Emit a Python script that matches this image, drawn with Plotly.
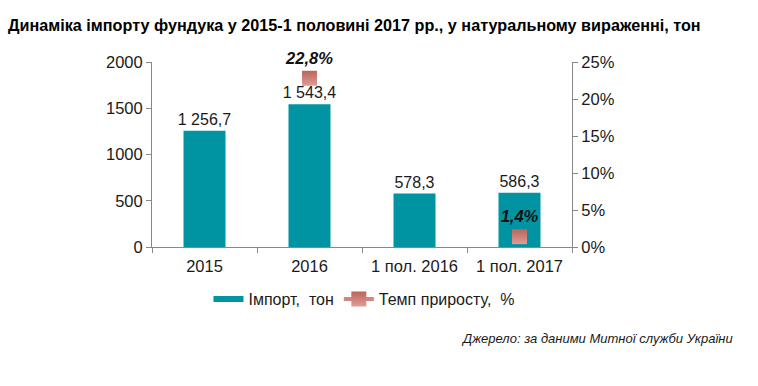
import plotly.graph_objects as go

categories = ["2015", "2016", "1 пол. 2016", "1 пол. 2017"]
import_tons = [1256.7, 1543.4, 578.3, 586.3]
growth_pct = [None, 22.8, None, 1.4]
left_ticks = [0, 500, 1000, 1500, 2000]
right_ticks = [0, 5, 10, 15, 20, 25]

FONT = "Arial, Liberation Sans, sans-serif"
TEAL = "#0094A2"

def fmt_num(v):
    return f"{v:,.1f}".replace(",", " ").replace(".", ",")

bar_text = [fmt_num(v) for v in import_tons]
pct_text = ["" if v is None else f"<b><i>{v:.1f}%</i></b>".replace(".", ",") for v in growth_pct]

L, R, T, B = 152, 186, 62, 139
PW, PH = 758 - L - R, 386 - T - B

fig = go.Figure()
fig.add_trace(go.Bar(
    x=categories, y=import_tons, name="Імпорт,  тон", showlegend=False,
    marker=dict(color=TEAL, line=dict(width=0)),
    width=0.4,
    text=bar_text, textposition="outside", constraintext="none",
    textfont=dict(size=16, color="#1a1a1a", family=FONT),
    cliponaxis=False,
))
# legend entry for the bars (wide flat swatch as in the reference)
fig.add_trace(go.Scatter(
    x=[None], y=[None], name="Імпорт,  тон", mode="lines",
    line=dict(color=TEAL, width=6),
))
fig.add_trace(go.Scatter(
    x=categories, y=growth_pct, name="Темп приросту,  %",
    yaxis="y2", mode="lines+markers+text", connectgaps=False,
    line=dict(color="#D0877F", width=4),
    marker=dict(symbol="square", size=15, color="#B9645C",
                gradient=dict(type="vertical", color="#E09C94"),
                line=dict(width=0)),
    text=pct_text, textposition="top center",
    textfont=dict(size=16.5, color="#111111", family=FONT),
    cliponaxis=False,
))

fig.update_layout(
    width=758, height=386,
    margin=dict(l=L, r=R, t=T, b=B, autoexpand=False),
    paper_bgcolor="white", plot_bgcolor="white",
    font=dict(family=FONT, size=16, color="#1a1a1a"),
    title=dict(text="<b>Динаміка імпорту фундука у 2015-1 половині 2017 рр., у натуральному вираженні, тон</b>",
               x=8 / 758, xanchor="left", xref="container",
               y=1 - 25 / 386, yanchor="middle", yref="container",
               font=dict(size=16.2, color="#000000", family=FONT)),
    showlegend=True,
    legend=dict(orientation="h", x=(364 - L) / PW, xanchor="center",
                y=(247 - 282) / PH, yanchor="top",
                font=dict(size=16, color="#1a1a1a", family=FONT),
                tracegroupgap=0),
    xaxis=dict(showline=True, linecolor="#888888", linewidth=1, automargin=False,
               ticks="outside", ticklen=5, tickcolor="#888888",
               tickson="boundaries", showgrid=False, ticklabelstandoff=4,
               tickfont=dict(size=16.5)),
    yaxis=dict(range=[0, 2000], tickvals=left_ticks, showline=True, linecolor="#888888",
               linewidth=1, ticks="outside", ticklen=5, tickcolor="#888888", automargin=False,
               showgrid=False, zeroline=False, tickfont=dict(size=16.5)),
    yaxis2=dict(range=[0, 25], tickvals=right_ticks, ticktext=[f"{t}%" for t in right_ticks],
                overlaying="y", side="right", showline=True, linecolor="#888888", automargin=False,
                linewidth=1, ticks="outside", ticklen=5, tickcolor="#888888",
                showgrid=False, zeroline=False, tickfont=dict(size=16.5)),
    annotations=[dict(text="<i>Джерело: за даними Митної служби України</i>",
                      xref="paper", yref="paper", x=(735 - L) / PW, y=(247 - 338) / PH,
                      xanchor="right", yanchor="middle", showarrow=False,
                      font=dict(size=13, color="#1a1a1a", family=FONT))],
)

fig.write_html("out.html", config={"displayModeBar": False},
               post_script="document.body.style.margin='0px';")
